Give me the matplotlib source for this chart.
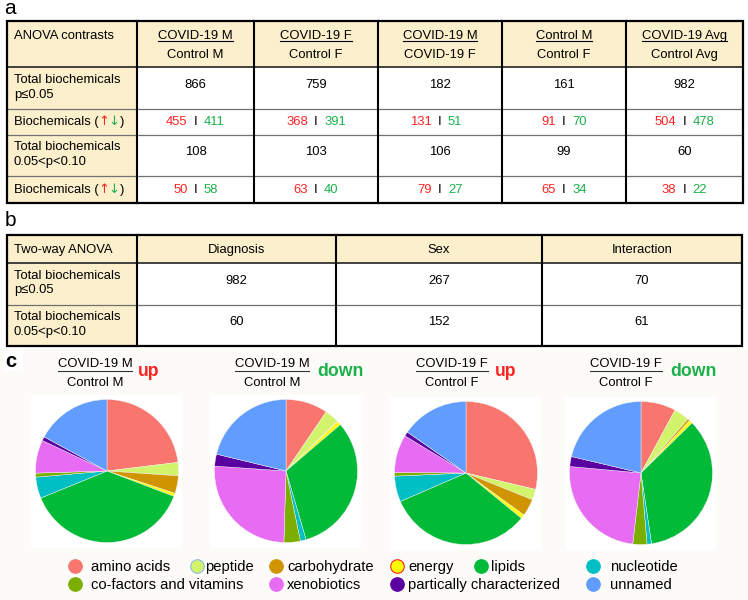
import matplotlib
matplotlib.use('Agg')
import matplotlib.pyplot as plt
from matplotlib.patches import Rectangle

plt.rcParams['font.family'] = ['Liberation Sans', 'DejaVu Sans']

# ---------------- data ----------------
contrast_num = ["COVID-19 M", "COVID-19 F", "COVID-19 M", "Control M", "COVID-19 Avg"]
contrast_den = ["Control M", "Control F", "COVID-19 F", "Control F", "Control Avg"]
total_p05 = [866, 759, 182, 161, 982]
up_p05 = [455, 368, 131, 91, 504]
down_p05 = [411, 391, 51, 70, 478]
total_p10 = [108, 103, 106, 99, 60]
up_p10 = [50, 63, 79, 65, 38]
down_p10 = [58, 40, 27, 34, 22]

twoway_cols = ["Diagnosis", "Sex", "Interaction"]
twoway_p05 = [982, 267, 70]
twoway_p10 = [60, 152, 61]

pie_num = ["COVID-19 M", "COVID-19 M", "COVID-19 F", "COVID-19 F"]
pie_den = ["Control M", "Control M", "Control F", "Control F"]
pie_dir = ["up", "down", "up", "down"]

classes = ["amino acids", "peptide", "carbohydrate", "energy", "lipids",
           "nucleotide", "co-factors and vitamins", "xenobiotics",
           "partically characterized", "unnamed"]
class_colors = ["#F8766D", "#D2F46C", "#CF9400", "#FFFF00", "#00BA38",
                "#00BFC4", "#7CAE00", "#E76BF3", "#5A00A0", "#619CFF"]
pct_M_up = [23.1, 3.0, 4.0, 0.7, 38.1, 4.8, 0.9, 7.5, 0.9, 17.1]
pct_M_down = [9.5, 3.2, 0.15, 0.9, 31.7, 1.3, 3.7, 25.6, 2.7, 21.2]
pct_F_up = [28.7, 2.4, 3.9, 0.9, 32.6, 5.8, 0.8, 8.6, 1.0, 15.3]
pct_F_down = [7.9, 3.5, 0.5, 0.75, 35.0, 1.0, 3.2, 24.6, 2.25, 21.3]
pie_data = [pct_M_up, pct_M_down, pct_F_up, pct_F_down]

# ---------------- figure ----------------
W, H = 748, 600
fig = plt.figure(figsize=(W / 100, H / 100), dpi=100)
bg = fig.add_axes([0, 0, 1, 1])
bg.set_xlim(0, W)
bg.set_ylim(H, 0)
bg.axis('off')
renderer = fig.canvas.get_renderer()

BEIGE = "#FCEFCB"
RED = "#FF2222"
GREEN = "#1CB04A"
FS = 9.4


def txt(x, yc, s, size=FS, color='black', ha='left', weight='normal', family=None):
    em = size * 100 / 72
    kw = {}
    if family is not None:
        kw['family'] = family
    return bg.text(x, yc + 0.36 * em, s, fontsize=size, color=color, ha=ha,
                   va='baseline', fontweight=weight, **kw)


def width(t):
    return t.get_window_extent(renderer).width


def table(cols, rows, beige_cells):
    for i in range(len(rows) - 1):
        for j in range(len(cols) - 1):
            fc = BEIGE if (i, j) in beige_cells else 'white'
            bg.add_patch(Rectangle((cols[j], rows[i]), cols[j + 1] - cols[j],
                                   rows[i + 1] - rows[i], facecolor=fc,
                                   edgecolor='none', zorder=1))
    for r in rows[2:-1]:
        bg.plot([cols[0], cols[-1]], [r, r], color='#707070', lw=0.9, zorder=2)
    bg.plot([cols[0], cols[-1]], [rows[1], rows[1]], color='#222222', lw=1.2, zorder=3)
    for c in cols[1:-1]:
        bg.plot([c, c], [rows[0], rows[-1]], color='black', lw=1.5, zorder=3)
    bg.add_patch(Rectangle((cols[0], rows[0]), cols[-1] - cols[0], rows[-1] - rows[0],
                           facecolor='none', edgecolor='black', lw=1.6, zorder=4))


# ---------------- panel a ----------------
bg.text(4, 14, "a", fontsize=15, va='baseline', ha='left')
colsA = [7, 137, 254, 378, 502, 626, 743]
rowsA = [21, 67, 109, 135, 176, 203]
beigeA = {(0, j) for j in range(6)} | {(i, 0) for i in range(5)}
table(colsA, rowsA, beigeA)

txt(14, 34, "ANOVA contrasts")
for j in range(5):
    cx = (colsA[j + 1] + colsA[j + 2]) / 2
    t = txt(cx, 34, contrast_num[j], ha='center')
    w = width(t)
    bg.plot([cx - w / 2, cx + w / 2], [40.5, 40.5], color='black', lw=0.8, zorder=5)
    txt(cx, 53, contrast_den[j], ha='center')


def arrow_label(x, yc):
    t = txt(x, yc, "Biochemicals (")
    x += width(t)
    t = txt(x, yc, "\u2191", color=RED, family=['DejaVu Sans'])
    x += width(t) - 1
    t = txt(x, yc, "\u2193", color=GREEN, family=['DejaVu Sans'])
    x += width(t)
    txt(x, yc, ")")


def split_nums(cx, yc, a, b):
    txt(cx - 8, yc, str(a), color=RED, ha='right')
    txt(cx, yc, "I", ha='center')
    txt(cx + 8, yc, str(b), color=GREEN, ha='left')


txt(14, 78.5, "Total biochemicals")
txt(14, 93, "p\u22640.05")
arrow_label(14, 120)
txt(14, 145.5, "Total biochemicals")
txt(14, 160.5, "0.05<p<0.10")
arrow_label(14, 188)
for j in range(5):
    cx = (colsA[j + 1] + colsA[j + 2]) / 2
    txt(cx, 83, str(total_p05[j]), ha='center')
    split_nums(cx, 120, up_p05[j], down_p05[j])
    txt(cx, 150.5, str(total_p10[j]), ha='center')
    split_nums(cx, 188, up_p10[j], down_p10[j])

# ---------------- panel b ----------------
bg.text(5, 226, "b", fontsize=15, va='baseline', ha='left')
colsB = [7, 137, 336, 542, 742]
rowsB = [235, 263, 305, 346]
beigeB = {(0, j) for j in range(4)} | {(i, 0) for i in range(3)}
table(colsB, rowsB, beigeB)
txt(14, 248.5, "Two-way ANOVA")
txt(14, 274, "Total biochemicals")
txt(14, 288, "p\u22640.05")
txt(14, 315, "Total biochemicals")
txt(14, 330.5, "0.05<p<0.10")
for j in range(3):
    cx = (colsB[j + 1] + colsB[j + 2]) / 2
    txt(cx, 248.5, twoway_cols[j], ha='center')
    txt(cx, 279.5, str(twoway_p05[j]), ha='center')
    txt(cx, 320.5, str(twoway_p10[j]), ha='center')

# ---------------- panel c ----------------
bg.add_patch(Rectangle((0, 349), W, H - 349, facecolor='#FCFBF8', edgecolor='none', zorder=0))
bg.add_patch(Rectangle((3, 351), 20, 20, facecolor='white', edgecolor='none', zorder=0.5))
bg.text(5, 367, "c", fontsize=14.5, fontweight='bold', va='baseline', ha='left')

title_cx = [95, 272, 452, 626]
dir_x = [138, 317, 495, 670]
pie_cx = [107, 286, 466, 641]
pie_cy = [471, 471, 473, 473]
R = 71.5

for k in range(4):
    cx = title_cx[k]
    t1 = txt(cx, 362, pie_num[k], ha='center')
    t2 = txt(cx, 381.5, pie_den[k], ha='center')
    w = max(width(t1), width(t2))
    bg.plot([cx - w / 2, cx + w / 2], [371, 371], color='#333333', lw=0.8)
    bg.text(dir_x[k], 376, pie_dir[k], fontsize=12.7, fontweight='bold',
            color=RED if pie_dir[k] == 'up' else GREEN, va='baseline', ha='left')

    bg.add_patch(Rectangle((pie_cx[k] - R - 4, pie_cy[k] - R - 5), 2 * R + 8, 2 * R + 10,
                           facecolor='white', edgecolor='none', zorder=0.5))
    ax = fig.add_axes([(pie_cx[k] - R) / W, 1 - (pie_cy[k] + R) / H, 2 * R / W, 2 * R / H])
    ax.pie(pie_data[k], colors=class_colors, startangle=90, counterclock=False,
           wedgeprops=dict(linewidth=0.3, edgecolor='#f4f4f4'))
    ax.set_xlim(-1.0, 1.0)
    ax.set_ylim(-1.0, 1.0)
    ax.set_aspect('equal')
    ax.axis('off')

# legend
leg_layout = [  # (circle x, text x, y) for each class, in class order
    (75, 91, 566), (197, 205, 566), (276, 287, 566), (397, 408, 566), (481, 491, 566),
    (593, 610, 566), (75, 91, 583.5), (276, 287, 583.5), (397, 408, 583.5), (593, 610, 583.5)]
edge_overrides = {"peptide": "#8FB8E8", "energy": "#FF2222"}
for name, col, (xc, xt, y) in zip(classes, class_colors, leg_layout):
    bg.scatter([xc], [y], s=95, color=col, edgecolors=edge_overrides.get(name, col),
               linewidths=0.8, zorder=5)
    txt(xt, y, name, size=10.6)

fig.savefig("out.png", dpi=100)
